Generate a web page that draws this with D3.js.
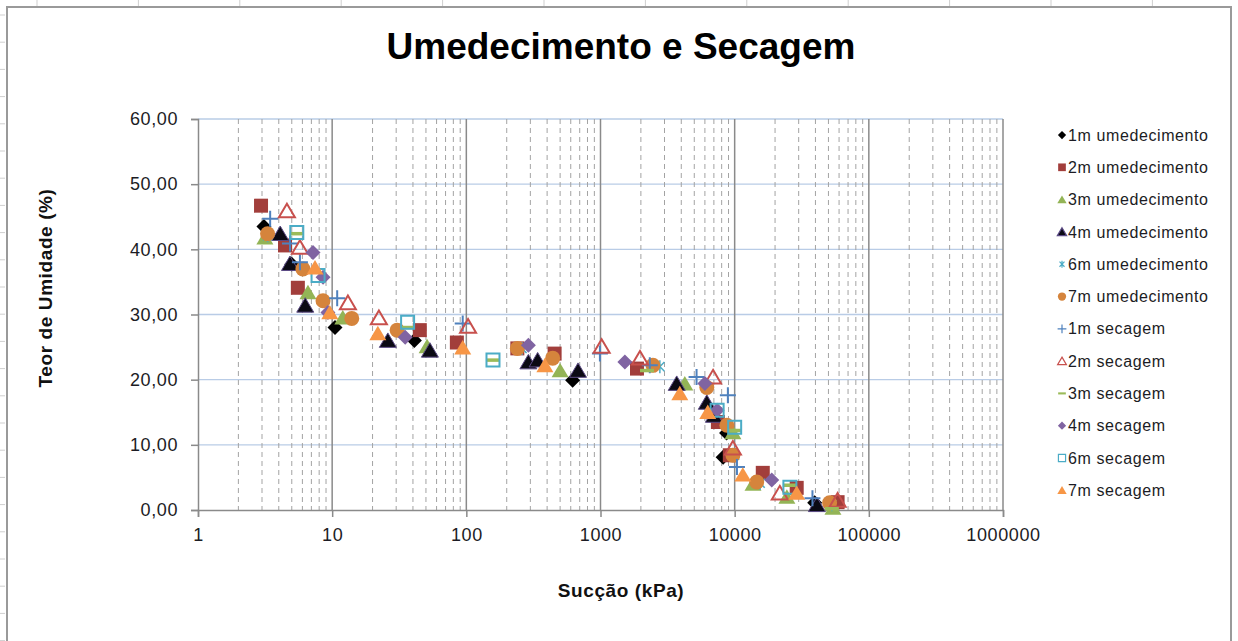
<!DOCTYPE html>
<html>
<head>
<meta charset="utf-8">
<script src="https://cdn.jsdelivr.net/npm/d3@7"></script>
<style>
  body { margin: 0; background: #fff; }
  svg { display: block; font-family: "Liberation Sans", Arial, sans-serif; }
</style>
</head>
<body>
<svg width="1238" height="641"></svg>
<script>
// [succao (kPa), teor de umidade (%)] per series
var umed1m = [[3.1, 43.5], [5.0, 37.7], [10.5, 28.0], [41, 26.0], [620, 19.9], [8700, 11.8], [8200, 8.1], [39500, 1.1]];
var umed2m = [[2.95, 46.7], [4.45, 40.6], [5.55, 34.1], [45, 27.6], [85, 25.7], [240, 24.8], [455, 24.0], [1870, 21.7],
  [7500, 13.5], [9200, 8.4], [16200, 5.7], [29000, 3.4], [58500, 1.2]];
var umed3m = [[3.15, 41.8], [6.6, 33.4], [12, 29.5], [51, 25.1], [500, 21.4], [4250, 19.4], [9700, 11.9], [13700, 4.0],
  [24500, 2.0], [54000, 0.3]];
var umed4m = [[4.1, 42.4], [4.85, 37.8], [6.3, 31.4], [26, 26.0], [53.5, 24.5], [290, 22.7], [340, 23.0], [680, 21.4],
  [3700, 19.4], [6200, 16.5], [7000, 14.5], [41000, 0.8]];
var umed6m = [[3.3, 42.1], [6.1, 37.0], [14, 29.4], [260, 24.8], [2770, 22.0], [10000, 8.4], [15500, 4.1], [53000, 0.8]];
var umed7m = [[3.3, 42.4], [6.05, 37.0], [8.55, 32.1], [14, 29.4], [30.5, 27.6], [240, 24.8], [440, 23.3], [2460, 22.2],
  [6200, 18.8], [8750, 13.0], [9700, 8.4], [14600, 4.3], [51000, 1.1]];
var sec1m = [[3.45, 44.7], [4.85, 40.9], [5.75, 38.0], [10.9, 32.5], [94, 28.6], [990, 24.0], [2330, 22.2], [5200, 20.4],
  [8900, 17.6], [10400, 6.6], [38000, 1.8]];
var sec2m = [[4.6, 45.9], [5.75, 40.3], [13.1, 31.8], [22.3, 29.5], [103, 28.2], [1020, 25.1], [1970, 23.3], [6900, 20.4],
  [9700, 9.5], [21700, 2.6], [58500, 1.5]];
var sec3m = [[5.45, 42.4], [36.5, 28.0], [158, 23.0], [2220, 21.4], [10000, 12.2], [25800, 3.8], [53000, 0.2]];
var sec4m = [[7.2, 39.5], [8.55, 35.7], [9.3, 30.3], [35, 26.5], [290, 25.3], [1520, 22.7], [6000, 19.4], [7400, 15.3],
  [18900, 4.6]];
var sec6m = [[5.45, 42.6], [7.85, 36.0], [36.5, 28.8], [158, 23.0], [7400, 15.3], [10000, 12.7], [25800, 3.5]];
var sec7m = [[7.45, 37.2], [9.6, 30.3], [21.9, 27.1], [94, 24.9], [385, 22.2], [3900, 17.9], [6300, 15.0], [11500, 5.4],
  [29000, 2.6]];

var seriesNames = ["1m umedecimento", "2m umedecimento", "3m umedecimento", "4m umedecimento", "6m umedecimento",
  "7m umedecimento", "1m secagem", "2m secagem", "3m secagem", "4m secagem", "6m secagem", "7m secagem"];
var seriesData = [umed1m, umed2m, umed3m, umed4m, umed6m, umed7m, sec1m, sec2m, sec3m, sec4m, sec6m, sec7m];

var yTicks = [0, 10, 20, 30, 40, 50, 60];
var xTicks = [1, 10, 100, 1000, 10000, 100000, 1000000];

// marker looks, same order as the series
var styles = [
  {shape: "diamond", size: 15, fill: "#000000", stroke: "none"},
  {shape: "square", size: 14, fill: "#A23E3B", stroke: "none"},
  {shape: "triangle", size: 17, fill: "#93B456", stroke: "none"},
  {shape: "triangle", size: 17, fill: "#0b0a14", stroke: "#5b4a85", sw: 1},
  {shape: "asterisk", size: 13, fill: "none", stroke: "#4BACC6", sw: 1.5},
  {shape: "circle", size: 15, fill: "#D5843C", stroke: "none"},
  {shape: "plus", size: 16, fill: "none", stroke: "#4F81BD", sw: 2},
  {shape: "triangle", size: 16, fill: "none", stroke: "#C8504D", sw: 2},
  {shape: "dash", size: 14, fill: "none", stroke: "#9BBB59", sw: 3.5},
  {shape: "diamond", size: 15, fill: "#8064A2", stroke: "none"},
  {shape: "square", size: 13, fill: "none", stroke: "#4BACC6", sw: 2},
  {shape: "triangle", size: 17, fill: "#F79646", stroke: "none"}
];

var svg = d3.select("svg"),
  width = +svg.attr("width"),
  height = +svg.attr("height");

var plot = {left: 198, right: 1003, top: 119, bottom: 510};

var x = d3.scaleLog().domain([1, 1000000]).range([plot.left, plot.right]);
var y = d3.scaleLinear().domain([0, 60]).range([plot.bottom, plot.top]);

function markerPath(shape, s) {
  var h = s / 2;
  if (shape == "circle") return d3.symbol(d3.symbolCircle, Math.PI * h * h)();
  if (shape == "diamond") return "M0," + -h + "L" + h + ",0L0," + h + "L" + -h + ",0Z";
  if (shape == "square") return "M" + -h + "," + -h + "H" + h + "V" + h + "H" + -h + "Z";
  if (shape == "triangle") return "M0," + (-h * 0.9) + "L" + h + "," + (h * 0.8) + "L" + -h + "," + (h * 0.8) + "Z";
  if (shape == "plus") return "M" + -h + ",0H" + h + "M0," + -h + "V" + h;
  if (shape == "dash") return "M" + -h + ",0H" + h;
  // asterisk
  var d = h * 0.7;
  return "M0," + -h + "V" + h + "M" + -d + "," + -d + "L" + d + "," + d + "M" + -d + "," + d + "L" + d + "," + -d;
}

// spreadsheet cells peeking out round the chart
var sheet = svg.append("g").attr("stroke", "#cfcfcf").attr("stroke-width", 1);
d3.range(37, width, 101.4).forEach(function(cx) {
  sheet.append("line").attr("x1", cx).attr("x2", cx).attr("y1", 0).attr("y2", 6);
});
d3.range(15, height, 27.2).forEach(function(cy) {
  sheet.append("line").attr("x1", 0).attr("x2", 5).attr("y1", cy).attr("y2", cy);
});

svg.append("rect")
  .attr("x", 7).attr("y", 7)
  .attr("width", 1224).attr("height", 700)
  .attr("fill", "#fff")
  .attr("stroke", "#9a9a9a")
  .attr("stroke-width", 2);

// title
svg.append("text")
  .attr("x", 621).attr("y", 59)
  .attr("text-anchor", "middle")
  .attr("font-size", 37).attr("font-weight", "bold")
  .attr("fill", "#000")
  .text("Umedecimento e Secagem");

// grid
var grid = svg.append("g").attr("class", "grid");

grid.selectAll(".hgrid")
  .data(yTicks.filter(function(d) { return d > 0; }))
  .enter().append("line")
  .attr("x1", plot.left).attr("x2", plot.right)
  .attr("y1", function(d) { return y(d); })
  .attr("y2", function(d) { return y(d); })
  .attr("stroke", "#b9cce6")
  .attr("stroke-width", 1.3);

var allTicks = x.ticks();
var isMajor = function(d) { return Math.abs(Math.log10(d) - Math.round(Math.log10(d))) < 1e-9; };

grid.selectAll(".minor")
  .data(allTicks.filter(function(d) { return !isMajor(d); }))
  .enter().append("line")
  .attr("x1", function(d) { return x(d); })
  .attr("x2", function(d) { return x(d); })
  .attr("y1", plot.top).attr("y2", plot.bottom)
  .attr("stroke", "#a3a3a3")
  .attr("stroke-width", 1)
  .attr("stroke-dasharray", "5,4");

grid.selectAll(".major")
  .data(xTicks.filter(function(d) { return d > 1; }))
  .enter().append("line")
  .attr("x1", function(d) { return x(d); })
  .attr("x2", function(d) { return x(d); })
  .attr("y1", plot.top).attr("y2", plot.bottom)
  .attr("stroke", "#8a8a8a")
  .attr("stroke-width", 1.5);

// axes
var fmtY = function(d) { return d3.format(".2f")(d).replace(".", ","); };

var yAxis = svg.append("g")
  .attr("transform", "translate(" + plot.left + ",0)")
  .call(d3.axisLeft(y).tickValues(yTicks).tickFormat(fmtY).tickSize(7).tickPadding(13));

var xAxis = svg.append("g")
  .attr("transform", "translate(0," + plot.bottom + ")")
  .call(d3.axisBottom(x).tickValues(xTicks).tickFormat(d3.format("d")).tickSize(7).tickPadding(11));

[yAxis, xAxis].forEach(function(a) {
  a.select(".domain").attr("stroke", "#8a8a8a").attr("stroke-width", 1.5);
  a.selectAll(".tick line").attr("stroke", "#8a8a8a").attr("stroke-width", 1.5);
  a.selectAll(".tick text")
    .attr("fill", "#1c1c24")
    .attr("font-size", 18)
    .attr("letter-spacing", 0.6)
    .attr("font-family", "Liberation Sans, Arial, sans-serif");
});

// axis titles
svg.append("text")
  .attr("transform", "translate(52,288) rotate(-90)")
  .attr("text-anchor", "middle")
  .attr("font-size", 19).attr("font-weight", "bold")
  .attr("letter-spacing", 0.6)
  .attr("fill", "#111")
  .text("Teor de Umidade (%)");

svg.append("text")
  .attr("x", 621).attr("y", 597)
  .attr("text-anchor", "middle")
  .attr("font-size", 19).attr("font-weight", "bold")
  .attr("letter-spacing", 0.6)
  .attr("fill", "#111")
  .text("Sucção (kPa)");

// points
var series = svg.append("g").attr("class", "series")
  .selectAll("g")
  .data(seriesData)
  .enter().append("g");

series.each(function(data, i) {
  var st = styles[i];
  d3.select(this).selectAll("path")
    .data(data)
    .enter().append("path")
    .attr("transform", function(d) { return "translate(" + x(d[0]) + "," + y(d[1]) + ")"; })
    .attr("d", markerPath(st.shape, st.size))
    .attr("fill", st.fill)
    .attr("stroke", st.stroke)
    .attr("stroke-width", st.sw || 0);
});

// legend
var legend = svg.append("g")
  .attr("class", "legend")
  .selectAll("g")
  .data(seriesNames)
  .enter().append("g")
  .attr("transform", function(d, i) { return "translate(1062," + (135 + i * 32.3) + ")"; });

legend.append("path")
  .attr("d", function(d, i) { return markerPath(styles[i].shape, styles[i].size * 0.55); })
  .attr("fill", function(d, i) { return styles[i].fill; })
  .attr("stroke", function(d, i) { return styles[i].stroke; })
  .attr("stroke-width", function(d, i) { return styles[i].sw ? Math.max(1.2, styles[i].sw * 0.6) : 0; });

legend.append("text")
  .attr("x", 6)
  .attr("dy", "0.35em")
  .attr("font-size", 16)
  .attr("letter-spacing", 0.6)
  .attr("fill", "#1c1c24")
  .text(function(d) { return d; });
</script>
</body>
</html>
